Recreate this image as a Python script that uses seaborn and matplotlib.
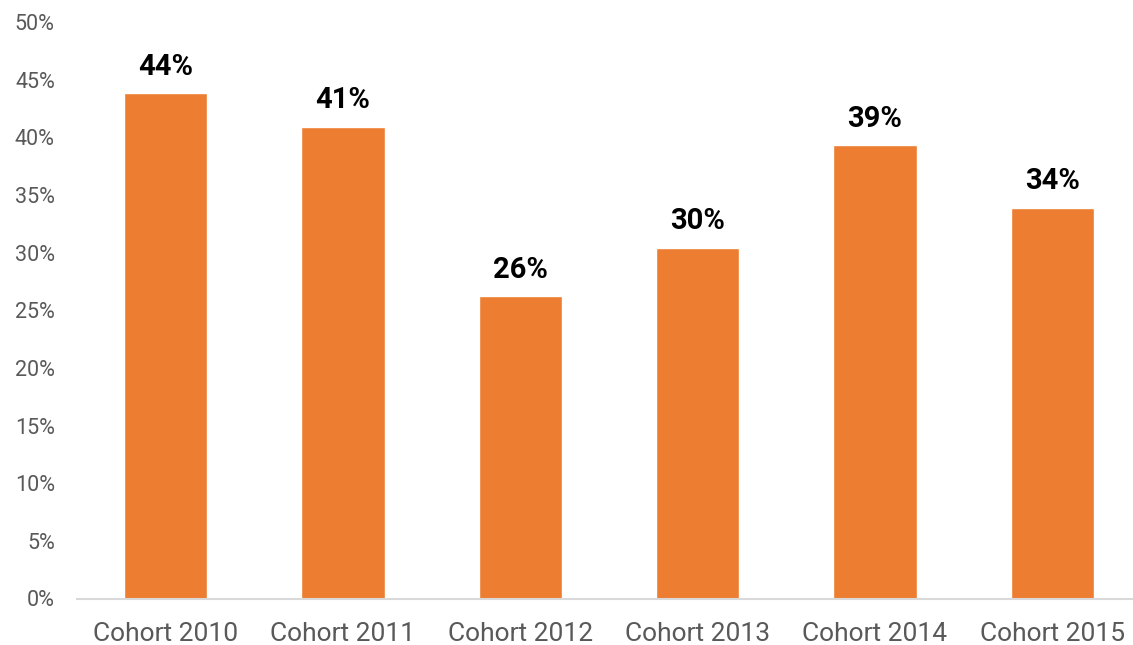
import pandas as pd
import seaborn as sns
from matplotlib import pyplot as plt
from matplotlib.ticker import FuncFormatter

cohorts = ['Cohort 2010', 'Cohort 2011', 'Cohort 2012', 'Cohort 2013', 'Cohort 2014', 'Cohort 2015']
rates = [0.438, 0.409, 0.262, 0.304, 0.393, 0.339]
labels = ['44%', '41%', '26%', '30%', '39%', '34%']

df = pd.DataFrame({'cohort': cohorts, 'rate': rates})

sns.set_style('white')
plt.rcParams['font.family'] = ['Roboto', 'DejaVu Sans']

fig = plt.figure(figsize=(11.33, 6.45), dpi=100)
ax = fig.add_axes([77 / 1133, 46.5 / 645, 1064 / 1133, 576.5 / 645])

sns.barplot(data=df, x='cohort', y='rate', color='#ED7D31', width=0.47,
            saturation=1, ax=ax)

for i, (v, t) in enumerate(zip(rates, labels)):
    ax.text(i, v + 0.011, t, ha='center', va='bottom', fontsize=21,
            fontweight='bold', color='black')

ax.set_ylim(0, 0.5)
ax.set_xlim(-0.5, 5.5)
ax.set_yticks([i * 0.05 for i in range(11)])
ax.yaxis.set_major_formatter(FuncFormatter(lambda y, _: f'{y * 100:.0f}%'))
ax.set_xlabel('')
ax.set_ylabel('')
ax.tick_params(axis='y', length=0, pad=16, labelsize=15.5, labelcolor='#595959')
ax.tick_params(axis='x', length=0, pad=17, labelsize=19, labelcolor='#595959')

for s in ['top', 'right', 'left']:
    ax.spines[s].set_visible(False)
ax.spines['bottom'].set_color('#d9d9d9')
ax.spines['bottom'].set_linewidth(1.5)
ax.spines['bottom'].set_clip_on(False)

fig.savefig('out.png', dpi=100)
